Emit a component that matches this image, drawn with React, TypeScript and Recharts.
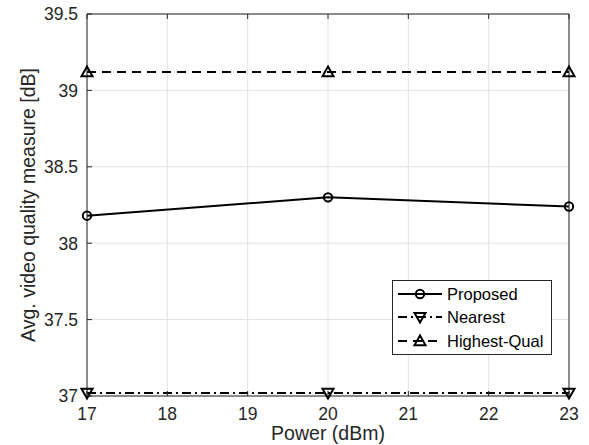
import { LineChart, Line, XAxis, YAxis, CartesianGrid } from "recharts";

// values
const powers = [17, 20, 23];
const proposed = [38.18, 38.3, 38.24];
const nearest = [37.02, 37.02, 37.02];
const highestQual = [39.12, 39.12, 39.12];
const xTicks = [17, 18, 19, 20, 21, 22, 23];
const yTicks = [37, 37.5, 38, 38.5, 39, 39.5];

const data = powers.map((p, i) => ({
  power: p,
  proposed: proposed[i],
  nearest: nearest[i],
  highest: highestQual[i],
}));

const FONT = '"Liberation Sans", Arial, Helvetica, sans-serif';
const INK = "#262626";
const TICK_FS = 17.5;
const LABEL_FS = 19.5;
const LEGEND_FS = 16.5;
const LW = 2;

const DASH = "9 6";
const DASH_DOT = "9 4 2 4";

type Kind = "circle" | "up" | "down";

function Marker({ kind, cx, cy }: { kind: Kind; cx: number; cy: number }) {
  if (kind === "circle") {
    return <circle cx={cx} cy={cy} r={4.2} fill="none" stroke="#000" strokeWidth={LW} />;
  }
  const s = 5.5;
  const pts =
    kind === "up"
      ? `${cx},${cy - s} ${cx + s},${cy + s * 0.75} ${cx - s},${cy + s * 0.75}`
      : `${cx},${cy + s} ${cx + s},${cy - s * 0.75} ${cx - s},${cy - s * 0.75}`;
  return <polygon points={pts} fill="none" stroke="#000" strokeWidth={LW} strokeLinejoin="miter" />;
}

const dotOf = (kind: Kind) => (p: any) => <Marker key={`${kind}-${p.index}`} kind={kind} cx={p.cx} cy={p.cy} />;

// MATLAB style ticks: short marks pointing inside the box
const BOTTOM_OFF = 11;
const LEFT_OFF = 9;
const EDGE_OFF = 4;
const MARK = 5;

function BottomTick(props: any) {
  const { x, y, payload } = props;
  const ay = y - BOTTOM_OFF;
  return (
    <g>
      <line x1={x} x2={x} y1={ay} y2={ay - MARK} stroke={INK} />
      <text x={x} y={y} dy="0.72em" textAnchor="middle" fill={INK} fontSize={TICK_FS} fontFamily={FONT}>
        {payload.value}
      </text>
    </g>
  );
}

function LeftTick(props: any) {
  const { x, y, payload } = props;
  const ax = x + LEFT_OFF;
  return (
    <g>
      <line x1={ax} x2={ax + MARK} y1={y} y2={y} stroke={INK} />
      <text x={x} y={y} dy="0.36em" textAnchor="end" fill={INK} fontSize={TICK_FS} fontFamily={FONT}>
        {payload.value}
      </text>
    </g>
  );
}

function TopTick(props: any) {
  const { x, y } = props;
  const ay = y + EDGE_OFF;
  return <line x1={x} x2={x} y1={ay} y2={ay + MARK} stroke={INK} />;
}

function RightTick(props: any) {
  const { x, y } = props;
  const ax = x - EDGE_OFF;
  return <line x1={ax} x2={ax - MARK} y1={y} y2={y} stroke={INK} />;
}

const legendRows: { name: string; kind: Kind; dash?: string }[] = [
  { name: "Proposed", kind: "circle" },
  { name: "Nearest", kind: "down", dash: DASH_DOT },
  { name: "Highest-Qual", kind: "up", dash: DASH },
];

function LegendBox() {
  return (
    <div
      style={{
        position: "absolute",
        left: 392,
        top: 280,
        width: 160,
        height: 75,
        boxSizing: "border-box",
        border: `1px solid ${INK}`,
        background: "#fff",
        paddingTop: 1,
        fontFamily: FONT,
        fontSize: LEGEND_FS,
        color: "#000",
      }}
    >
      {legendRows.map((r) => (
        <div key={r.name} style={{ display: "flex", alignItems: "center", height: 23.5 }}>
          <svg width={46} height={20} style={{ marginLeft: 4, flex: "none" }}>
            <line x1={1} x2={45} y1={10} y2={10} stroke="#000" strokeWidth={LW} strokeDasharray={r.dash} />
            <Marker kind={r.kind} cx={23} cy={10} />
          </svg>
          <span style={{ marginLeft: 4, lineHeight: 1 }}>{r.name}</span>
        </div>
      ))}
    </div>
  );
}

export default function App() {
  return (
    <div style={{ position: "absolute", left: 0, top: 0, width: 589, height: 445, background: "#fff" }}>
      <LineChart width={589} height={445} data={data} margin={{ top: 4, right: 10, bottom: 0, left: 27 }}>
        <CartesianGrid stroke="#e2e2e2" strokeWidth={1} />
        <XAxis
          dataKey="power"
          type="number"
          domain={[17, 23]}
          ticks={xTicks}
          height={49}
          tickSize={BOTTOM_OFF}
          tickMargin={0}
          tickLine={false}
          axisLine={{ stroke: INK }}
          tick={<BottomTick />}
          label={{ value: "Power (dBm)", position: "center", dy: 13, fill: INK, fontSize: LABEL_FS, fontFamily: FONT }}
        />
        <XAxis
          xAxisId="top"
          orientation="top"
          dataKey="power"
          type="number"
          domain={[17, 23]}
          ticks={xTicks}
          height={10}
          tickSize={EDGE_OFF}
          tickMargin={0}
          tickLine={false}
          axisLine={{ stroke: INK }}
          tick={<TopTick />}
        />
        <YAxis
          type="number"
          domain={[37, 39.5]}
          ticks={yTicks}
          width={60}
          tickSize={LEFT_OFF}
          tickMargin={0}
          tickLine={false}
          axisLine={{ stroke: INK }}
          tick={<LeftTick />}
          label={{
            value: "Avg. video quality measure [dB]",
            position: "center",
            angle: -90,
            dx: -29,
            fill: INK,
            fontSize: LABEL_FS,
            fontFamily: FONT,
          }}
        />
        <YAxis
          yAxisId="right"
          orientation="right"
          type="number"
          domain={[37, 39.5]}
          ticks={yTicks}
          width={10}
          tickSize={EDGE_OFF}
          tickMargin={0}
          tickLine={false}
          axisLine={{ stroke: INK }}
          tick={<RightTick />}
        />
        <Line
          dataKey="highest"
          stroke="#000"
          strokeWidth={LW}
          strokeDasharray={DASH}
          dot={dotOf("up")}
          isAnimationActive={false}
        />
        <Line
          dataKey="nearest"
          stroke="#000"
          strokeWidth={LW}
          strokeDasharray={DASH_DOT}
          dot={dotOf("down")}
          isAnimationActive={false}
        />
        <Line dataKey="proposed" stroke="#000" strokeWidth={LW} dot={dotOf("circle")} isAnimationActive={false} />
      </LineChart>
      <LegendBox />
    </div>
  );
}
